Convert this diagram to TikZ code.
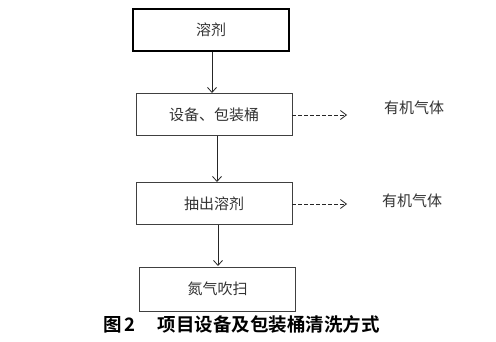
\documentclass[tikz,border=0pt]{standalone}
\usepackage{fontspec}
\newfontfamily\cjk{Noto Sans CJK SC}
\newfontfamily\cjkb{Noto Sans CJK SC Bold}
\usetikzlibrary{arrows.meta}
\begin{document}
\begin{tikzpicture}[x=1pt,y=-1pt,
  stepbox/.style={draw=black!75,line width=0.7pt,minimum width=156pt,minimum height=42pt,inner sep=0pt,font=\cjk\fontsize{15}{15}\selectfont,text=black!80},
  flow/.style={draw=black!85,line width=0.8pt,-{Straight Barb[length=5pt,width=9pt]}},
  gas/.style={draw=black!85,line width=0.8pt,dash pattern=on 3.5pt off 2.5pt,-{Straight Barb[length=6pt,width=9pt,line width=0.8pt]}},
  lbl/.style={font=\cjk\fontsize{15}{15}\selectfont,text=black!80,inner sep=0pt}]
\useasboundingbox (0,0) rectangle (496,342);
\fill[white] (0,0) rectangle (496,342);
\node[stepbox,line width=1.5pt,draw=black] (s) at (211,30) {溶剂};
\node[stepbox] (e) at (214,114.5) {设备、包装桶};
\node[stepbox] (x) at (214,203.5) {抽出溶剂};
\node[stepbox,minimum height=44pt] (n) at (217.5,289) {氮气吹扫};
\coordinate (g1) at (347,115);
\coordinate (g2) at (347,204);
\node[lbl] (t1) at (414,108) {有机气体};
\node[lbl] (t2) at (412,201) {有机气体};
\draw[flow] (s.south -| 212,0) -- (212,93);
\draw[flow] (e.south -| 217,0) -- (217,182);
\draw[flow] (x.south -| 218,0) -- (218,266);
\draw[gas] (e.east |- g1) -- (g1);
\draw[gas] (x.east |- g2) -- (g2);
\node[font=\cjkb\fontsize{18.5}{18.5}\selectfont,inner sep=0pt,anchor=west] (cap) at (103,324) {图\,2\hspace{1.2em}项目设备及包装桶清洗方式};
\end{tikzpicture}
\end{document}
